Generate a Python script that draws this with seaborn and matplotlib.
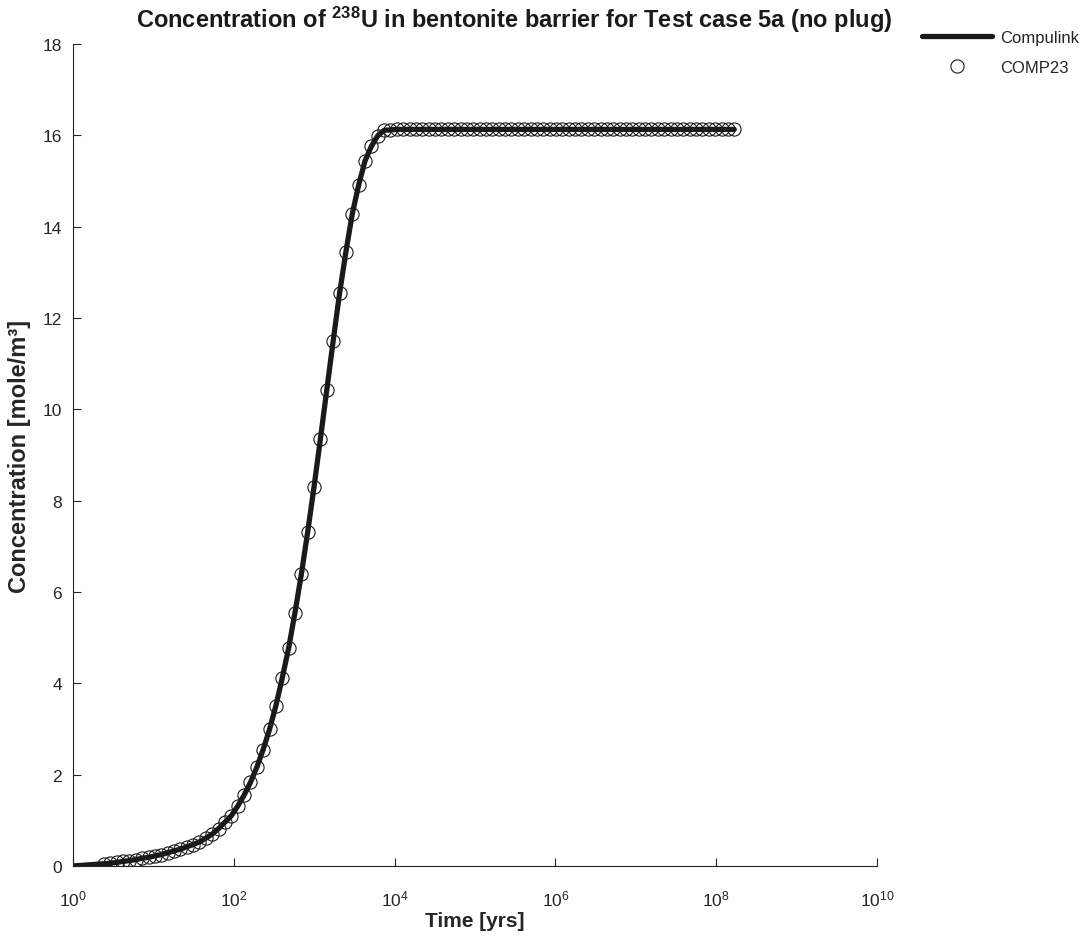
import matplotlib
matplotlib.use("Agg")
import matplotlib.pyplot as plt
import seaborn as sns
import pandas as pd

# ---- data ----
comp23_time = [
    2.43, 2.92, 3.50, 4.20, 5.04, 6.05, 7.26, 8.71, 10.45, 12.54,
    15.05, 18.06, 21.67, 26.00, 31.20, 37.44, 44.93, 53.91, 64.70, 77.64,
    93.16, 111.8, 134.2, 161.0, 193.2, 231.8, 278.2, 333.8, 400.6, 480.7,
    576.9, 692.2, 830.7, 996.8, 1196, 1435, 1722, 2067, 2480, 2976,
    3571, 4286, 5143, 6171, 7406, 8887, 1.066e4, 1.280e4, 1.536e4, 1.843e4,
    2.211e4, 2.654e4, 3.184e4, 3.821e4, 4.585e4, 5.502e4, 6.603e4, 7.923e4, 9.508e4, 1.141e5,
    1.369e5, 1.643e5, 1.972e5, 2.366e5, 2.839e5, 3.407e5, 4.088e5, 4.906e5, 5.887e5, 7.064e5,
    8.477e5, 1.017e6, 1.221e6, 1.465e6, 1.758e6, 2.109e6, 2.531e6, 3.037e6, 3.645e6, 4.374e6,
    5.249e6, 6.298e6, 7.558e6, 9.070e6, 1.088e7, 1.306e7, 1.567e7, 1.881e7, 2.257e7, 2.708e7,
    3.250e7, 3.900e7, 4.680e7, 5.616e7, 6.739e7, 8.087e7, 9.704e7, 1.165e8, 1.397e8, 1.677e8,
]
comp23_conc = [
    0.05, 0.06, 0.08, 0.10, 0.12, 0.14, 0.17, 0.19, 0.22, 0.25,
    0.29, 0.33, 0.37, 0.42, 0.47, 0.53, 0.61, 0.70, 0.82, 0.96,
    1.10, 1.31, 1.55, 1.83, 2.16, 2.55, 2.99, 3.51, 4.12, 4.77,
    5.55, 6.39, 7.32, 8.31, 9.36, 10.43, 11.50, 12.54, 13.45, 14.28,
    14.91, 15.44, 15.76, 15.99, 16.11, 16.12, 16.13, 16.13, 16.13, 16.13,
    16.13, 16.13, 16.13, 16.13, 16.13, 16.13, 16.13, 16.13, 16.13, 16.13,
    16.13, 16.13, 16.13, 16.13, 16.13, 16.13, 16.13, 16.13, 16.13, 16.13,
    16.13, 16.13, 16.13, 16.13, 16.13, 16.13, 16.13, 16.13, 16.13, 16.13,
    16.13, 16.13, 16.13, 16.13, 16.13, 16.13, 16.13, 16.13, 16.13, 16.13,
    16.13, 16.13, 16.13, 16.13, 16.13, 16.13, 16.13, 16.13, 16.13, 16.13,
]
compulink_time = [1.0] + comp23_time
compulink_conc = [0.0] + comp23_conc

x_ticks = [1e0, 1e2, 1e4, 1e6, 1e8, 1e10]
x_tick_labels = [r"$10^{0}$", r"$10^{2}$", r"$10^{4}$", r"$10^{6}$", r"$10^{8}$", r"$10^{10}$"]
y_ticks = [0, 2, 4, 6, 8, 10, 12, 14, 16, 18]

# ---- style ----
sns.set_style("ticks")
plt.rcParams["font.family"] = ["Liberation Sans", "DejaVu Sans"]
plt.rcParams["mathtext.fontset"] = "custom"
plt.rcParams["mathtext.rm"] = "Liberation Sans"
plt.rcParams["mathtext.it"] = "Liberation Sans"
plt.rcParams["mathtext.bf"] = "Liberation Sans:bold"

df_line = pd.DataFrame({"t": compulink_time, "c": compulink_conc})
df_pts = pd.DataFrame({"t": comp23_time, "c": comp23_conc})

fig = plt.figure(figsize=(10.86, 9.45), dpi=100)
ax = fig.add_axes([73 / 1086, 1 - 867 / 945, (877 - 73) / 1086, (867 - 45) / 945])

col = "#1a1a1a"
sns.lineplot(data=df_line, x="t", y="c", ax=ax, color=col, linewidth=3.8,
             label="Compulink", estimator=None, sort=False)
ax.plot(df_pts["t"], df_pts["c"], linestyle="none", marker="o", markersize=9.5,
        markerfacecolor="none", markeredgecolor=col, markeredgewidth=0.8, label="COMP23")

ax.set_xscale("log")
ax.set_xlim(1, 1e10)
ax.set_ylim(0, 18)
ax.set_xticks(x_ticks)
ax.set_xticklabels(x_tick_labels)
ax.set_yticks(y_ticks)
ax.minorticks_off()
ax.tick_params(axis="both", direction="in", length=6, width=0.8, colors="#262626",
               labelsize=12.5, labelcolor="#262626")
ax.tick_params(axis="x", pad=16)
ax.tick_params(axis="y", pad=8)
for s in ["top", "right"]:
    ax.spines[s].set_visible(False)
for s in ["left", "bottom"]:
    ax.spines[s].set_linewidth(0.8)
    ax.spines[s].set_color("#262626")

ax.set_xlabel("Time [yrs]", fontsize=15, fontweight="bold", labelpad=2)
ax.set_ylabel("Concentration [mole/m³]", fontsize=17, fontweight="bold", labelpad=8)

fig.text(514 / 1086, 1 - 20 / 945,
         r"Concentration of $^{\mathbf{238}}$U in bentonite barrier for Test case 5a (no plug)",
         ha="center", va="center", fontsize=17, fontweight="bold", color="#1a1a1a")

ax.legend(loc="upper left", bbox_to_anchor=(915 / 1086, 1 - 24 / 945),
          bbox_transform=fig.transFigure, frameon=False, fontsize=12,
          handlelength=4.2, borderaxespad=0, labelspacing=0.9, handletextpad=0.5)

fig.savefig("out.png", dpi=100)
